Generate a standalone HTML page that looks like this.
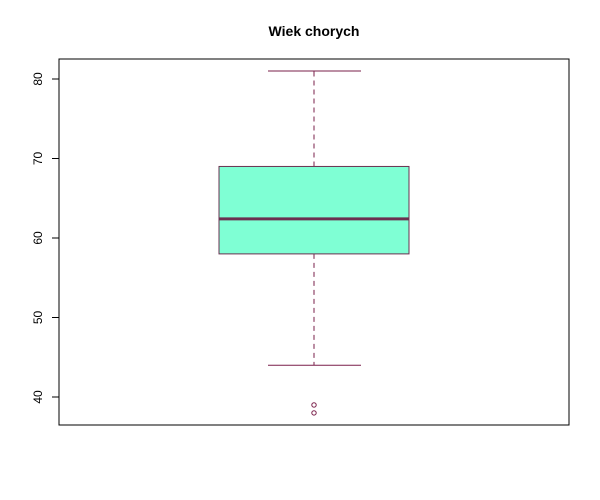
<!DOCTYPE html>
<html><head><meta charset="utf-8"><style>body{margin:0;background:#fff}svg{display:block}</style></head>
<body>
<svg id="chart" width="600" height="500" xmlns="http://www.w3.org/2000/svg" font-family="Liberation Sans, sans-serif">
<rect x="0" y="0" width="600" height="500" fill="#fff"/>
<text x="314" y="36" text-anchor="middle" font-weight="bold" font-size="14">Wiek chorych</text>
<rect x="59" y="59" width="510" height="366" fill="none" stroke="#000" stroke-width="1"/>
<g id="axis"></g>
<g id="box"></g>
</svg>
<script>
const yTicks = [40, 50, 60, 70, 80];
const whiskerLow = [44];
const q1 = [58];
const median = [62.4];
const q3 = [69];
const whiskerHigh = [81];
const outliers = [38, 39];

const y = v => 397 - (v - 40) * 7.95;
const NS = 'http://www.w3.org/2000/svg';
const axis = document.getElementById('axis');
const box = document.getElementById('box');
function mk(tag, attrs, parent) {
  const e = document.createElementNS(NS, tag);
  for (const k in attrs) e.setAttribute(k, attrs[k]);
  parent.appendChild(e);
  return e;
}
const axLine = mk('line', {x1: 59, x2: 59, y1: y(yTicks[0]), y2: y(yTicks[yTicks.length-1]), stroke: '#000'}, axis);


yTicks.forEach(t => {
  const l = mk('line', {x1: 52, x2: 59, y1: y(t), y2: y(t), stroke: '#000'}, axis);
  
  
  const tx = mk('text', {x: 0, y: 0, 'font-size': 12, 'text-anchor': 'middle', transform: `translate(42,${y(t)}) rotate(-90)`}, axis);
  tx.textContent = t;
  
  
});
const cx = 314, bl = 219, br = 409, cl = 268, cr = 361;
const col = '#7A1F4A';
const w1 = mk('line', {x1: cx, x2: cx, y1: y(q3[0]), y2: y(whiskerHigh[0]), stroke: col, 'stroke-dasharray': '5,4'}, box);


const w2 = mk('line', {x1: cx, x2: cx, y1: y(q1[0]), y2: y(whiskerLow[0]), stroke: col, 'stroke-dasharray': '5,4'}, box);


const c1 = mk('line', {x1: cl, x2: cr, y1: y(whiskerHigh[0]), y2: y(whiskerHigh[0]), stroke: col}, box);


const c2 = mk('line', {x1: cl, x2: cr, y1: y(whiskerLow[0]), y2: y(whiskerLow[0]), stroke: col}, box);


const r = mk('rect', {x: bl, y: y(q3[0]), width: br - bl, height: y(q1[0]) - y(q3[0]), fill: '#7FFFD4', stroke: '#6B3050'}, box);


const m = mk('line', {x1: bl, x2: br, y1: y(median[0]), y2: y(median[0]), stroke: '#6B3050', 'stroke-width': 3}, box);


outliers.forEach(o => {
  const c = mk('circle', {cx: cx, cy: y(o), r: 2.2, fill: 'none', stroke: col}, box);
  
  
});
</script>
</body></html>
